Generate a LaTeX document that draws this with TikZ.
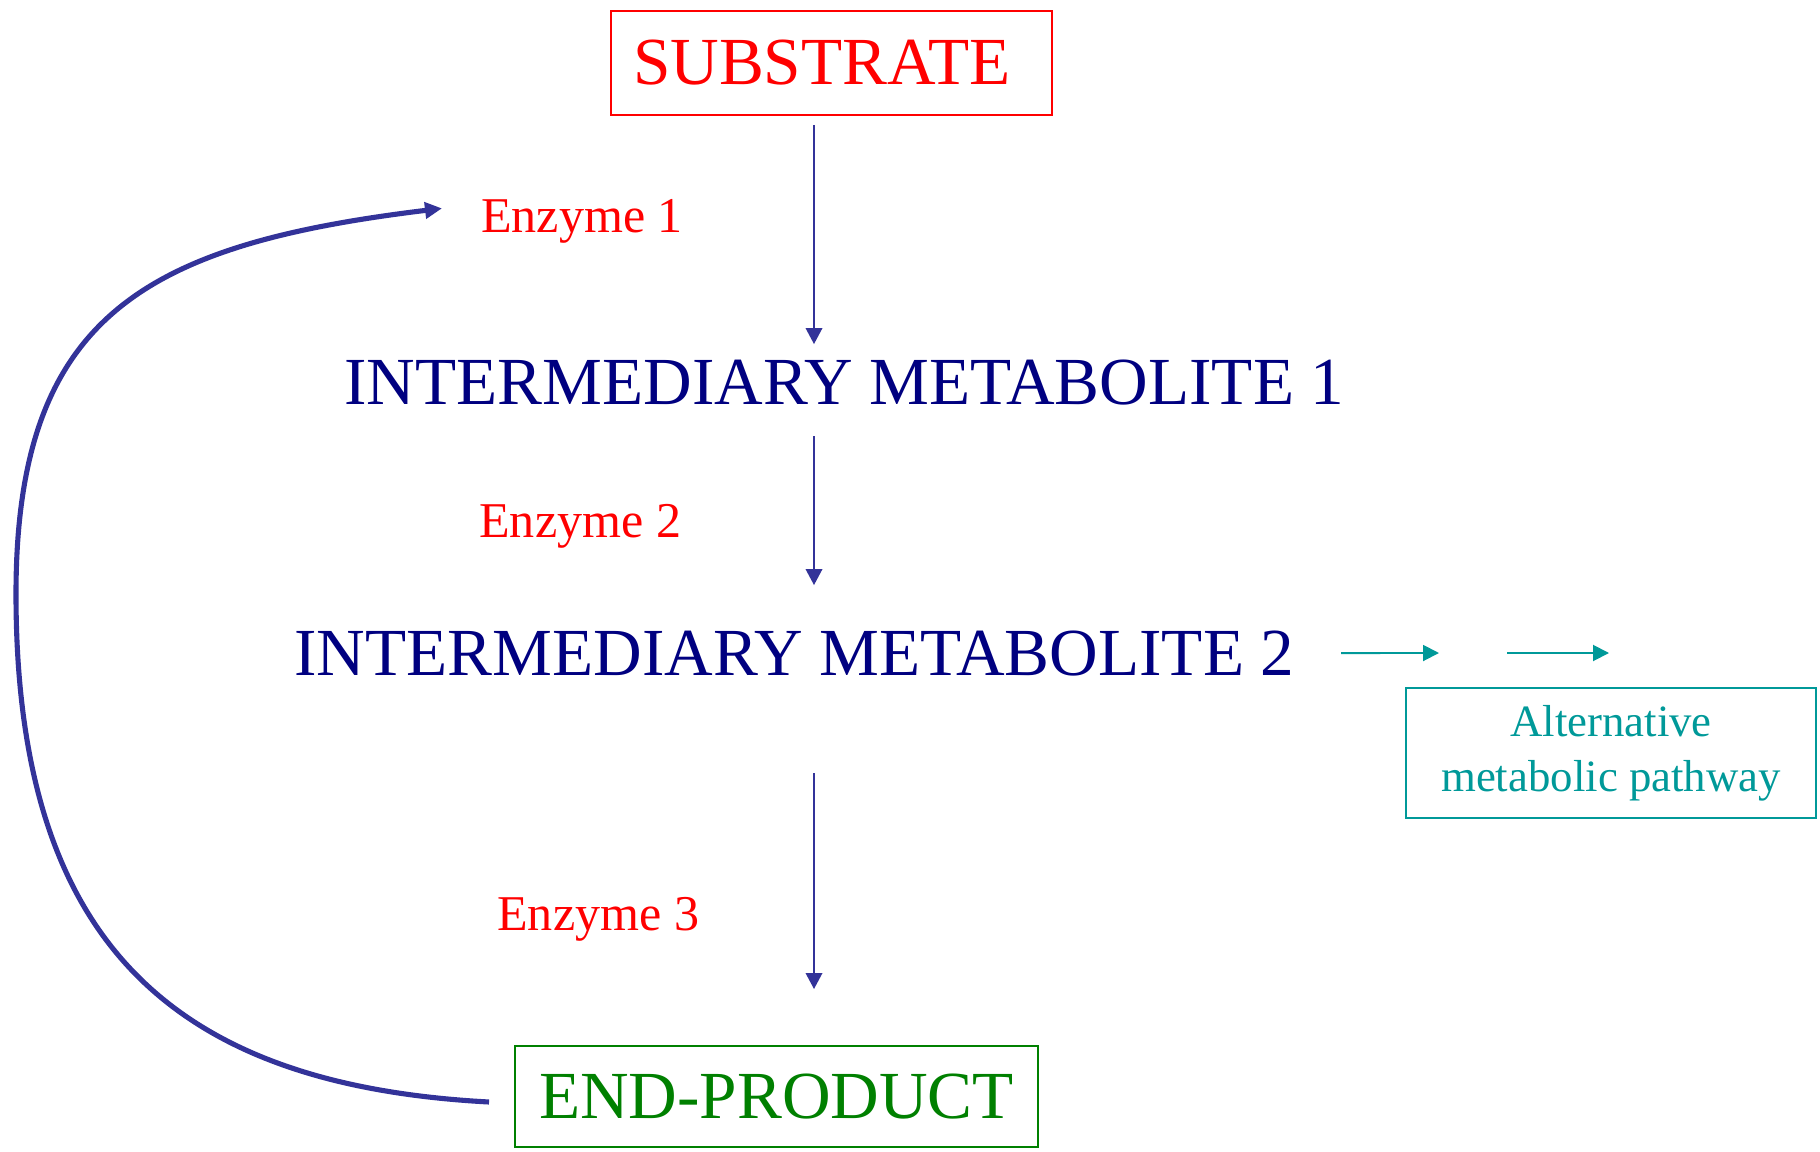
\documentclass[tikz,border=0pt]{standalone}
\usepackage{fontspec}
\setmainfont{Liberation Serif}
\usetikzlibrary{arrows.meta}
\definecolor{navytext}{RGB}{0,0,128}
\definecolor{arrowblue}{RGB}{51,51,153}
\definecolor{pathteal}{RGB}{0,153,153}
\definecolor{productgreen}{RGB}{0,128,0}

\begin{document}
\begin{tikzpicture}[
        big/.style={font=\fontsize{38.3}{46}\selectfont},
        metabolite/.style={big,text=navytext,inner sep=0pt,anchor=base west},
        enzyme/.style={font=\fontsize{28.5}{34}\selectfont,text=red,inner sep=0pt,anchor=base west},
        flow/.style={draw=arrowblue,line width=1.1pt,-{Triangle[length=0.32cm,width=0.33cm]}},
        branch/.style={draw=pathteal,line width=1.1pt,-{Triangle[length=0.32cm,width=0.32cm]}},
        feedback/.style={draw=arrowblue,line width=2.9pt,-{Triangle[length=0.34cm,width=0.32cm]}}
    ]
        \useasboundingbox (0,0) rectangle (36.4,-23.04);
        \node [big,draw=red,text=red,line width=1.1pt,minimum width=8.82cm,minimum height=2.08cm,
            text width=7.94cm,inner xsep=0.44cm,align=left] (Substrate) at (16.63,-1.26) {SUBSTRATE};
        \node [metabolite] (Metabolite1) at (6.88,-8.08) {INTERMEDIARY METABOLITE 1};
        \node [metabolite] (Metabolite2) at (5.88,-13.5) {INTERMEDIARY METABOLITE 2};
        \node [big,draw=productgreen,text=productgreen,line width=1.1pt,minimum width=10.46cm,
            minimum height=2.02cm] (EndProduct) at (15.53,-21.93) {END-PRODUCT};
        \node [enzyme] (Enzyme1) at (9.62,-4.66) {Enzyme 1};
        \node [enzyme] (Enzyme2) at (9.58,-10.74) {Enzyme 2};
        \node [enzyme] (Enzyme3) at (9.94,-18.6) {Enzyme 3};
        \node [draw=pathteal,text=pathteal,line width=1.1pt,font=\fontsize{25.5}{31.3}\selectfont,
            align=center,minimum width=8.2cm,minimum height=2.6cm] (Alternative) at (32.22,-15.06)
            {Alternative\\metabolic pathway};

        % main pathway
        \coordinate (Axis) at (16.28,0);
        \draw [flow,shorten <=0.18cm,shorten >=0.3cm] (Substrate.south -| Axis) -- (Metabolite1.north -| Axis);
        \draw [flow,shorten <=0.62cm,shorten >=0.9cm] (Metabolite1.south -| Axis) -- (Metabolite2.north -| Axis);
        \draw [flow,shorten <=1.94cm,shorten >=1.12cm] (Metabolite2.south -| Axis) -- (EndProduct.north -| Axis);

        % side branch
        \coordinate (Branch1) at (28.78,-13.06);
        \coordinate (Branch2) at (30.14,-13.06);
        \coordinate (Branch3) at (32.18,-13.06);
        \draw [branch] ([xshift=0.92cm]Metabolite2.east) -- (Branch1);
        \draw [branch] (Branch2) -- (Branch3);

        % feedback inhibition
        \coordinate (LoopLeft) at (0.32,-11.88);
        \draw [feedback] ([xshift=-0.5cm,yshift=-0.11cm]EndProduct.west)
            .. controls (3.4,-21.7) and (0.32,-18.8) .. (LoopLeft)
            .. controls (0.32,-6.3) and (2.92,-4.89) .. ([xshift=-0.78cm,yshift=0.27cm]Enzyme1.west);
    \end{tikzpicture}
\end{document}
